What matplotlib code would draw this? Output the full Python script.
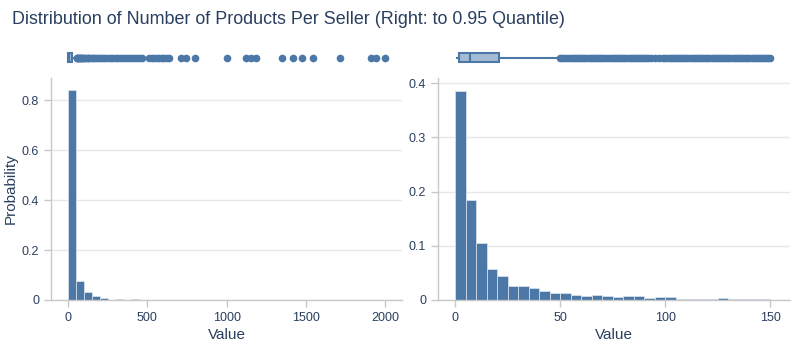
import matplotlib.pyplot as plt
import numpy as np

plt.rcParams['font.family'] = ['Liberation Sans', 'DejaVu Sans']

# histogram data (probability per bin)
left_edges = list(range(0, 2100, 50))
left_probs = [0.840, 0.076, 0.031, 0.016, 0.009, 0.002, 0.003, 0.002, 0.003, 0.0015,
              0.0008, 0.0008, 0.0006, 0.0004, 0.0008, 0.0006, 0.0004, 0.0, 0.0, 0.0,
              0.0004, 0.0, 0.0004, 0.0006, 0.0004, 0.0, 0.0, 0.0004, 0.0004, 0.0004,
              0.0004, 0.0, 0.0, 0.0, 0.0004, 0.0, 0.0, 0.0, 0.0004, 0.0004, 0.0004]

right_edges = list(range(0, 155, 5))
right_probs = [0.386, 0.1846, 0.1058, 0.0572, 0.0437, 0.0258, 0.0258, 0.0222, 0.0166, 0.0129,
               0.0129, 0.0092, 0.0074, 0.0086, 0.0068, 0.0062, 0.0068, 0.0068, 0.0037, 0.0062,
               0.0049, 0.0025, 0.0025, 0.0018, 0.0012, 0.0043, 0.0025, 0.0025, 0.0018, 0.0018]

# box plot summaries
left_box = dict(whislo=1, q1=2, med=8, q3=24, whishi=56)
left_fliers = [58, 60, 63, 66, 70, 74, 79, 84, 90, 96, 103, 110, 118, 126, 135, 145, 156, 167,
               178, 190, 202, 215, 228, 242, 256, 270, 285, 300, 316, 332, 348, 365, 382, 400,
               418, 436, 452, 465, 514, 530, 545, 560, 577, 592, 608, 622, 636, 714, 745, 804,
               1004, 1124, 1155, 1187, 1351, 1418, 1477, 1544, 1714, 1910, 1942, 1996]

right_box = dict(whislo=1, q1=2, med=7, q3=21, whishi=48)
right_fliers = [50, 51, 52, 53, 54, 55, 56, 57, 58, 59, 60, 61, 62, 63, 64, 65, 66, 67, 68, 69,
                70, 71, 72, 73, 74, 75, 76, 77, 78, 79, 80, 81, 82, 83, 84, 85, 86, 87, 88, 89,
                90, 91, 92, 93, 95, 97, 99, 100, 101, 102, 103, 104, 105, 106, 107, 108, 109, 110,
                111, 112, 113, 114, 115, 116, 117, 118, 119, 120, 121, 122, 123, 124, 125, 126,
                127, 128, 129, 130, 131, 132, 133, 134, 135, 136, 137, 138, 139, 140, 141, 142,
                143, 144, 145, 146, 147, 148, 149, 150]

blue = '#4c78a8'
text_col = '#2a3f5f'
grid_col = '#e8e8e8'
axis_col = '#c8c8c8'

fig = plt.figure(figsize=(8, 3.5), dpi=100)

panels = [
    dict(left=51, right=402, edges=left_edges, probs=left_probs, width=50,
         xlim=(-107, 2106), ylim=(0, 0.889), yticks=[0, 0.2, 0.4, 0.6, 0.8],
         xticks=[0, 500, 1000, 1500, 2000], box=left_box, fliers=left_fliers, ylabel=True),
    dict(left=438, right=790, edges=right_edges, probs=right_probs, width=5,
         xlim=(-8.1, 159.3), ylim=(0, 0.4097), yticks=[0, 0.1, 0.2, 0.3, 0.4],
         xticks=[0, 50, 100, 150], box=right_box, fliers=right_fliers, ylabel=False),
]

for p in panels:
    l = p['left'] / 800
    w = (p['right'] - p['left']) / 800
    ax = fig.add_axes([l, 50 / 350, w, 222 / 350])
    ax.bar(p['edges'][:-1], p['probs'], width=p['width'], align='edge',
           color=blue, edgecolor='#dfe6ee', linewidth=0.5, zorder=2)
    ax.set_xlim(*p['xlim'])
    ax.set_ylim(*p['ylim'])
    ax.set_xticks(p['xticks'])
    ax.set_yticks(p['yticks'])
    ax.set_yticklabels(['0'] + [f'{v:g}' for v in p['yticks'][1:]])
    ax.grid(axis='y', color=grid_col, linewidth=1, zorder=0)
    ax.set_axisbelow(True)
    for s in ['top', 'right']:
        ax.spines[s].set_visible(False)
    for s in ['left', 'bottom']:
        ax.spines[s].set_color(axis_col)
        ax.spines[s].set_linewidth(1)
    ax.tick_params(colors=axis_col, labelcolor=text_col, labelsize=9, length=5, width=1)
    ax.set_xlabel('Value', color=text_col, fontsize=11, labelpad=3)
    if p['ylabel']:
        ax.set_ylabel('Probability', color=text_col, fontsize=11, labelpad=3)

    bax = fig.add_axes([l, 280 / 350, w, 25 / 350])
    stats = dict(p['box'], fliers=p['fliers'])
    bax.bxp([stats], positions=[0], widths=0.72, orientation='horizontal',
            showcaps=False, patch_artist=True,
            boxprops=dict(facecolor=(76 / 255, 120 / 255, 168 / 255, 0.5), edgecolor=blue, linewidth=1.5),
            medianprops=dict(color=blue, linewidth=1.5),
            whiskerprops=dict(color=blue, linewidth=1.5),
            flierprops=dict(marker='o', markerfacecolor=blue, markeredgecolor=blue,
                            markeredgewidth=0, markersize=5.5))
    bax.set_xlim(*p['xlim'])
    bax.set_ylim(-1, 1)
    bax.axis('off')

fig.text(12 / 800, 1 - 19 / 350, 'Distribution of Number of Products Per Seller (Right: to 0.95 Quantile)',
         color=text_col, fontsize=12.85, va='center', ha='left')

plt.savefig('out.png', dpi=100)
